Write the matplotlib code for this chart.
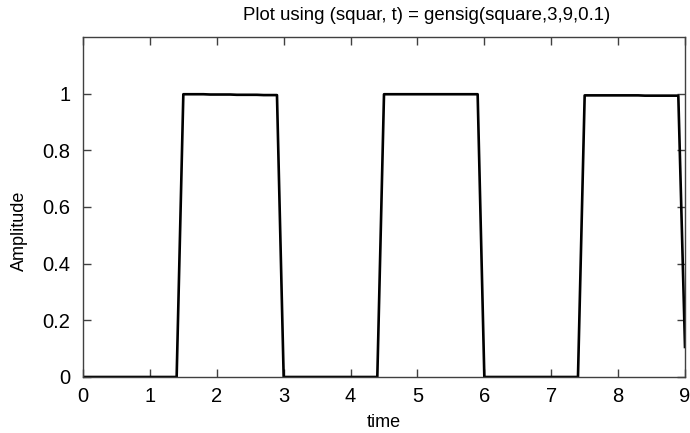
import matplotlib.pyplot as plt

plt.rcParams['font.family'] = ['Liberation Sans', 'DejaVu Sans']

# sample times 0:0.1:9
time = [round(0.1 * i, 1) for i in range(91)]

# square wave samples, one row per second
squar = [
    0, 0, 0, 0, 0, 0, 0, 0, 0, 0,                                     # 0.0 - 0.9
    0, 0, 0, 0, 0, 0.998, 0.998, 0.998, 0.998, 0.997,                 # 1.0 - 1.9
    0.997, 0.997, 0.997, 0.996, 0.996, 0.996, 0.996, 0.995, 0.995, 0.995,  # 2.0 - 2.9
    0, 0, 0, 0, 0, 0, 0, 0, 0, 0,                                     # 3.0 - 3.9
    0, 0, 0, 0, 0, 0.998, 0.998, 0.998, 0.998, 0.998,                 # 4.0 - 4.9
    0.998, 0.998, 0.998, 0.998, 0.998, 0.998, 0.998, 0.998, 0.998, 0.998,  # 5.0 - 5.9
    0, 0, 0, 0, 0, 0, 0, 0, 0, 0,                                     # 6.0 - 6.9
    0, 0, 0, 0, 0, 0.994, 0.994, 0.994, 0.994, 0.994,                 # 7.0 - 7.9
    0.994, 0.994, 0.994, 0.994, 0.993, 0.993, 0.993, 0.993, 0.993, 0.993,  # 8.0 - 8.9
    0.106,                                                            # 9.0
]

xticks = [0, 1, 2, 3, 4, 5, 6, 7, 8, 9]
yticks = [0, 0.2, 0.4, 0.6, 0.8, 1]
ytick_labels = ['0', '0.2', '0.4', '0.6', '0.8', '1']

fig = plt.figure(figsize=(6.9, 4.33), dpi=100)
ax = fig.add_axes([83 / 690, 1 - 377 / 433, (685 - 83) / 690, (377 - 37) / 433])

ax.plot(time, squar, color='black', linewidth=1.9)

ax.set_xlim(0, 9)
ax.set_ylim(0, 1.2)
ax.set_xticks(xticks)
ax.set_yticks(yticks)
ax.set_yticklabels(ytick_labels)

# box with inward ticks on every side
ax.tick_params(direction='in', length=6, width=1, colors='0.25',
               labelcolor='black', labelsize=14.5,
               top=True, right=True)
ax.tick_params(axis='x', pad=7)
ax.tick_params(axis='y', pad=9)
for sp in ax.spines.values():
    sp.set_color('0.25')
    sp.set_linewidth(1)

ax.set_xlabel('time', fontsize=13, labelpad=6)
ax.set_ylabel('Amplitude', fontsize=13)
ax.yaxis.set_label_coords(-0.091, 0.43)
ax.set_title('Plot using (squar, t) = gensig(square,3,9,0.1)', fontsize=13.4,
             x=0.571, pad=12)

fig.savefig('out.png', dpi=100)
